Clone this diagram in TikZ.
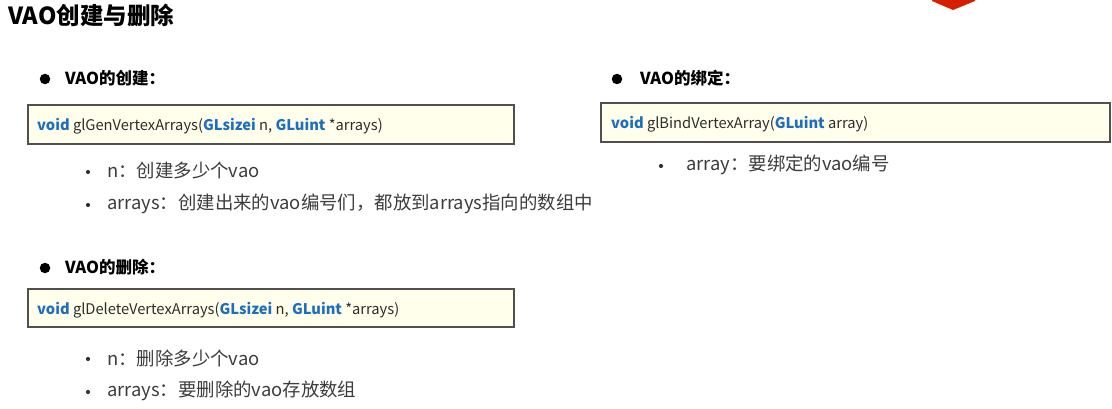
\documentclass[tikz,border=0pt]{standalone}
\usepackage{fontspec}
\setmainfont{Noto Sans CJK SC}
\definecolor{kw}{RGB}{30,110,190}
\definecolor{codetxt}{RGB}{45,45,45}
\definecolor{subtxt}{RGB}{60,60,60}
\definecolor{boxfill}{RGB}{255,255,235}
\definecolor{boxline}{RGB}{80,80,80}
\definecolor{redmark}{RGB}{212,32,0}
\tikzset{
  codebox/.style={draw=boxline, line width=1.5pt, fill=boxfill, rectangle, inner sep=0pt},
  codetext/.style={anchor=west, inner sep=0pt, font=\fontsize{14.7}{17}\selectfont, text=codetxt},
  heading/.style={anchor=west, inner sep=0pt, font=\fontsize{16.5}{19}\selectfont\bfseries, text=black},
  subitem/.style={anchor=west, inner sep=0pt, font=\fontsize{18.4}{21}\selectfont, text=subtxt},
  bigdot/.style={circle, fill=black, inner sep=0pt, minimum size=10.5pt},
  smalldot/.style={circle, fill=black!80, inner sep=0pt, minimum size=4.2pt},
}
\newcommand{\kwd}[1]{\textcolor{kw}{\bfseries #1}}
\begin{document}
\begin{tikzpicture}[x=1pt,y=-1pt]
\useasboundingbox (0,0) rectangle (1112,409);
% red mark at top
\fill[redmark] (932,0) -- (975,0) -- (975,1) -- (953,10) -- (932,1) -- cycle;
% title
\node[anchor=west, inner sep=0pt, font=\fontsize{23.5}{26}\selectfont\bfseries] (title) at (8,16) {VAO创建与删除};
% creation
\node[bigdot] (b1) at (45,79) {};
\node[heading] (h1) at (65,78) {VAO的创建：};
\node[codebox, minimum width=486pt, minimum height=39pt] (box1) at (271,124.5) {};
\node[codetext] (c1) at (37,126) {\kwd{void} glGenVertexArrays(\kwd{GLsizei} n, \kwd{GLuint} *arrays)};
\node[smalldot] (s1) at (88,172) {};
\node[subitem] (t1) at (107,171) {n：创建多少个vao};
\node[smalldot] (s2) at (88,205) {};
\node[subitem] (t2) at (107,204) {arrays：创建出来的vao编号们，都放到arrays指向的数组中};
% deletion
\node[bigdot] (b2) at (45,268) {};
\node[heading] (h2) at (65,267) {VAO的删除：};
\node[codebox, minimum width=486pt, minimum height=38pt] (box2) at (271,308) {};
\node[codetext] (c2) at (37,310) {\kwd{void} glDeleteVertexArrays(\kwd{GLsizei} n, \kwd{GLuint} *arrays)};
\node[smalldot] (s3) at (88,359) {};
\node[subitem] (t3) at (107,358) {n：删除多少个vao};
\node[smalldot] (s4) at (88,392) {};
\node[subitem] (t4) at (107,391) {arrays：要删除的vao存放数组};
% binding
\node[bigdot] (b3) at (617,79) {};
\node[heading] (h3) at (640,78) {VAO的绑定：};
\node[codebox, minimum width=509pt, minimum height=39pt] (box3) at (855.5,122.5) {};
\node[codetext] (c3) at (611,124) {\kwd{void} glBindVertexArray(\kwd{GLuint} array)};
\node[smalldot] (s5) at (661,166) {};
\node[subitem] (t5) at (686,165) {array：要绑定的vao编号};
\end{tikzpicture}
\end{document}
